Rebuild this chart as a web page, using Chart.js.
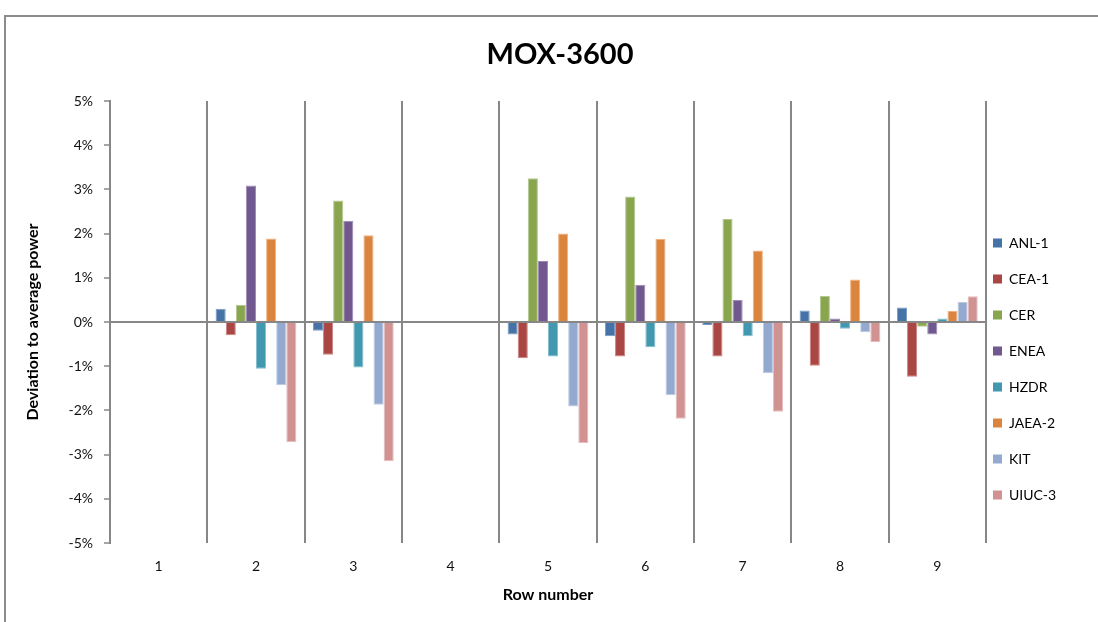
<!DOCTYPE html>
<html>
<head>
<meta charset="utf-8">
<title>MOX-3600</title>
<script src="https://cdn.jsdelivr.net/npm/chart.js@4.4.1/dist/chart.umd.min.js"></script>
<style>
  html, body { margin: 0; padding: 0; background: #fff; overflow: hidden; }
  #wrap { position: relative; width: 1098px; height: 622px; }
  #frame {
    position: absolute; left: 4px; top: 15px; width: 1200px; height: 700px;
    border-left: 2px solid #8c8c8c; border-top: 2px solid #8c8c8c; box-sizing: border-box;
  }
  #chart { position: absolute; left: 0; top: 0; }
</style>
</head>
<body>
<div id="wrap">
  <div id="frame"></div>
  <canvas id="chart" width="1098" height="622"></canvas>
</div>
<script>
// Row numbers along the category axis
const rows = ['1', '2', '3', '4', '5', '6', '7', '8', '9'];

// Deviation to average power per row, in percent (null = no value for that row)
const anl1  = [null,  0.30, -0.20, null, -0.28, -0.32, -0.07,  0.26,  0.33];
const cea1  = [null, -0.30, -0.74, null, -0.82, -0.78, -0.78, -0.99, -1.24];
const cer   = [null,  0.39,  2.75, null,  3.25,  2.84,  2.33,  0.59, -0.11];
const enea  = [null,  3.09,  2.29, null,  1.38,  0.84,  0.50,  0.08, -0.28];
const hzdr  = [null, -1.06, -1.03, null, -0.78, -0.57, -0.32, -0.15,  0.08];
const jaea2 = [null,  1.89,  1.96, null,  2.00,  1.88,  1.62,  0.96,  0.25];
const kit   = [null, -1.43, -1.87, null, -1.91, -1.66, -1.16, -0.23,  0.45];
const uiuc3 = [null, -2.72, -3.15, null, -2.74, -2.19, -2.03, -0.45,  0.58];

// Value axis ticks
const yTicks = [-5, -4, -3, -2, -1, 0, 1, 2, 3, 4, 5];

const seriesNames = ['ANL-1', 'CEA-1', 'CER', 'ENEA', 'HZDR', 'JAEA-2', 'KIT', 'UIUC-3'];
const seriesData = [anl1, cea1, cer, enea, hzdr, jaea2, kit, uiuc3];
const fills   = ['#4572A7', '#AA4643', '#89A54E', '#71588F', '#4198AF', '#DB843D', '#93A9CF', '#D19392'];
const edges   = ['#7A9CC4', '#C98280', '#B3C78E', '#9F8BB6', '#86BFD0', '#EDB07F', '#BCCCE4', '#E5BDBC'];

const AXIS_GREY = '#878787';
const FONT = 'Lato';

// Shift the legend block next to the plot, stacked beside the lower rows
const LEGEND_DX = -15;
const LEGEND_DY = 47;
const legendOffset = {
  id: 'legendOffset',
  afterLayout(chart) {
    const lg = chart.legend;
    if (!lg) return;
    lg.left += LEGEND_DX; lg.right += LEGEND_DX;
    lg.top += LEGEND_DY; lg.bottom += LEGEND_DY;
  }
};

const datasets = seriesNames.map((name, i) => ({
  label: name,
  data: seriesData[i],
  backgroundColor: fills[i],
  borderColor: edges[i],
  borderWidth: 1,
  categoryPercentage: 0.83,
  barPercentage: 1.0
}));

new Chart(document.getElementById('chart'), {
  type: 'bar',
  data: { labels: rows, datasets },
  plugins: [legendOffset],
  options: {
    responsive: false,
    animation: false,
    devicePixelRatio: 1,
    layout: { padding: { left: 49, right: 27, top: 0, bottom: 17.4 } },
    plugins: {
      title: {
        display: true,
        text: 'MOX-3600',
        color: '#000',
        font: { family: FONT, size: 29, weight: 'bold' },
        padding: { top: 37.6, bottom: 28.6 }
      },
      legend: {
        position: 'right',
        fullSize: false,
        maxWidth: 85,
        labels: {
          boxWidth: 9,
          boxHeight: 9,
          padding: 22,
          color: '#111',
          font: { family: FONT, size: 14 },
          generateLabels(chart) {
            return chart.data.datasets.map((ds, i) => ({
              text: ds.label,
              fillStyle: ds.backgroundColor,
              strokeStyle: ds.backgroundColor,
              lineWidth: 0,
              hidden: false,
              datasetIndex: i
            }));
          }
        }
      },
      tooltip: { enabled: false }
    },
    scales: {
      x: {
        offset: true,
        afterFit(scale) { scale.height = 61.6; },
        grid: {
          offset: true,
          color: AXIS_GREY,
          lineWidth: 2,
          drawTicks: false
        },
        border: { display: false },
        ticks: {
          color: '#111',
          padding: 15,
          font: { family: FONT, size: 14 }
        },
        title: {
          display: true,
          text: 'Row number',
          color: '#000',
          font: { family: FONT, size: 16, weight: 'bold' },
          padding: { top: 10.6, bottom: 0 }
        }
      },
      y: {
        min: yTicks[0],
        max: yTicks[yTicks.length - 1],
        afterBuildTicks(scale) {
          scale.ticks = yTicks.map(v => ({ value: v }));
        },
        afterFit(scale) { scale.width = 61; },
        grid: {
          color: ctx => (ctx.tick && ctx.tick.value === 0) ? AXIS_GREY : 'rgba(0,0,0,0)',
          lineWidth: 2,
          tickColor: AXIS_GREY,
          tickLength: 6,
          tickWidth: 1.5
        },
        border: { display: true, color: AXIS_GREY, width: 2 },
        ticks: {
          color: '#111',
          padding: 11,
          font: { family: FONT, size: 14 },
          callback: v => v + '%'
        },
        title: {
          display: true,
          text: 'Deviation to average power',
          color: '#000',
          font: { family: FONT, size: 16, weight: 'bold' },
          padding: { top: -25.6, bottom: 0 }
        }
      }
    }
  }
});
</script>
</body>
</html>
